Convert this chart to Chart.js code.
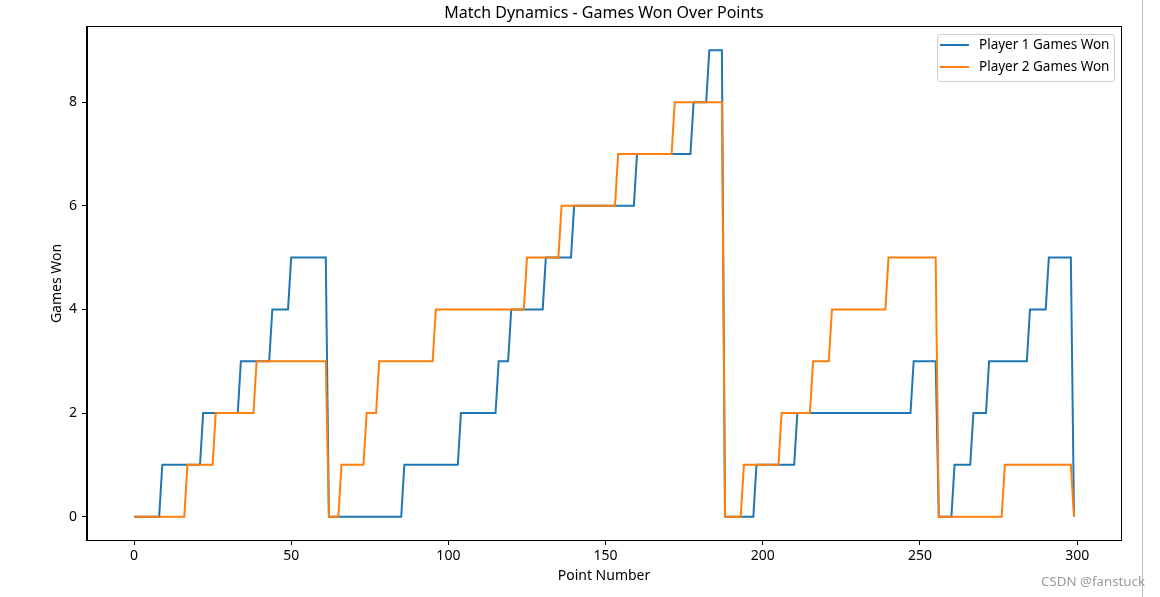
<!DOCTYPE html>
<html>
<head>
<meta charset="utf-8">
<title>Match Dynamics</title>
<script src="https://cdn.jsdelivr.net/npm/chart.js@4.4.1/dist/chart.umd.min.js"></script>
<style>
  html, body { margin: 0; padding: 0; background: #fff; }
</style>
</head>
<body>
<canvas id="matchChart" width="1160" height="597"></canvas>
<script>
const xTicks = [0, 50, 100, 150, 200, 250, 300];
const yTicks = [0, 2, 4, 6, 8];

// corner points of each step line (point number -> games won)
const p1X = [0, 8, 9, 21, 22, 33, 34, 43, 44, 49, 50, 61, 62, 85, 86, 103, 104, 115, 116, 119, 120,
  130, 131, 139, 140, 159, 160, 177, 178, 182, 183, 187, 188, 197, 198, 210, 211, 247, 248, 255, 256,
  260, 261, 266, 267, 271, 272, 284, 285, 290, 291, 298, 299];
const p1Y = [0, 0, 1, 1, 2, 2, 3, 3, 4, 4, 5, 5, 0, 0, 1, 1, 2, 2, 3, 3, 4,
  4, 5, 5, 6, 6, 7, 7, 8, 8, 9, 9, 0, 0, 1, 1, 2, 2, 3, 3, 0,
  0, 1, 1, 2, 2, 3, 3, 4, 4, 5, 5, 0];

const p2X = [0, 16, 17, 25, 26, 38, 39, 61, 62, 65, 66, 73, 74, 77, 78, 95, 96, 124, 125, 135, 136,
  153, 154, 171, 172, 187, 188, 193, 194, 205, 206, 215, 216, 221, 222, 239, 240, 255, 256, 276, 277,
  298, 299];
const p2Y = [0, 0, 1, 1, 2, 2, 3, 3, 0, 0, 1, 1, 2, 2, 3, 3, 4, 4, 5, 5, 6,
  6, 7, 7, 8, 8, 0, 0, 1, 1, 2, 2, 3, 3, 4, 4, 5, 5, 0, 0, 1,
  1, 0];

const FONT = "'Noto Sans', 'DejaVu Sans', sans-serif";
Chart.defaults.font.family = FONT;
Chart.defaults.font.size = 14;
Chart.defaults.color = '#000';

const toPoints = (xs, ys) => xs.map((x, i) => ({ x: x, y: ys[i] }));

// frame, title, legend box and the page extras
const decor = {
  id: 'decor',
  afterDraw(chart) {
    const { ctx, chartArea: a } = chart;
    ctx.save();
    ctx.strokeStyle = '#000';
    ctx.lineWidth = 1;
    ctx.strokeRect(Math.round(a.left) - 0.5, Math.round(a.top) - 0.5,
      Math.round(a.right - a.left) + 1, Math.round(a.bottom - a.top) + 1);

    ctx.fillStyle = '#000';
    ctx.font = '16px ' + FONT;
    ctx.textAlign = 'center';
    ctx.textBaseline = 'middle';
    ctx.fillText('Match Dynamics - Games Won Over Points', (a.left + a.right) / 2, 13);

    // legend
    const bx = 937, by = 34, bw = 177, bh = 47;
    ctx.fillStyle = 'rgba(255,255,255,0.8)';
    ctx.strokeStyle = '#cccccc';
    ctx.beginPath();
    ctx.roundRect(bx + 0.5, by + 0.5, bw, bh, 3);
    ctx.fill();
    ctx.stroke();
    ctx.font = '13.5px ' + FONT;
    ctx.textAlign = 'left';
    chart.data.datasets.forEach((ds, i) => {
      const y = 45 + i * 22;
      ctx.strokeStyle = ds.borderColor;
      ctx.lineWidth = 2;
      ctx.beginPath();
      ctx.moveTo(940, y);
      ctx.lineTo(969, y);
      ctx.stroke();
      ctx.fillStyle = '#000';
      ctx.fillText(ds.label, 979, y);
    });

    // screenshot edge and watermark
    ctx.strokeStyle = '#bbbbbb';
    ctx.lineWidth = 1;
    ctx.beginPath();
    ctx.moveTo(1142.5, 0);
    ctx.lineTo(1142.5, 597);
    ctx.stroke();
    ctx.fillStyle = '#9a9a9a';
    ctx.font = '13.3px ' + FONT;
    ctx.fillText('CSDN @fanstuck', 1041, 582);
    ctx.restore();
  }
};

new Chart(document.getElementById('matchChart'), {
  type: 'line',
  data: {
    datasets: [{
      label: 'Player 1 Games Won',
      data: toPoints(p1X, p1Y),
      borderColor: '#1f77b4',
      borderWidth: 2,
      pointRadius: 0,
      tension: 0,
      order: 1
    }, {
      label: 'Player 2 Games Won',
      data: toPoints(p2X, p2Y),
      borderColor: '#ff7f0e',
      borderWidth: 2,
      pointRadius: 0,
      tension: 0,
      order: 0
    }]
  },
  options: {
    responsive: false,
    animation: false,
    devicePixelRatio: 1,
    layout: { padding: { top: 27, right: 39, left: 0, bottom: 0 } },
    plugins: {
      legend: { display: false },
      title: { display: false },
      tooltip: { enabled: false }
    },
    scales: {
      x: {
        type: 'linear',
        min: -14.95,
        max: 313.95,
        afterBuildTicks: axis => { axis.ticks = xTicks.map(v => ({ value: v })); },
        afterFit: axis => { axis.height = 57; },
        grid: { drawOnChartArea: false, drawTicks: true, tickLength: 5, color: '#000' },
        border: { display: true, color: '#000' },
        ticks: { padding: 3, maxRotation: 0, font: { size: 14 } },
        title: { display: true, text: 'Point Number', font: { size: 14 }, padding: { top: 0, bottom: 12.6 } }
      },
      y: {
        min: -0.45,
        max: 9.45,
        afterBuildTicks: axis => { axis.ticks = yTicks.map(v => ({ value: v })); },
        afterFit: axis => { axis.width = 87; },
        grid: { drawOnChartArea: false, drawTicks: true, tickLength: 5, color: '#000' },
        border: { display: true, color: '#000' },
        ticks: { padding: 5, font: { size: 14 } },
        title: { display: true, text: 'Games Won', font: { size: 14 }, padding: { top: 48.6, bottom: 0 } }
      }
    }
  },
  plugins: [decor]
});
</script>
</body>
</html>
